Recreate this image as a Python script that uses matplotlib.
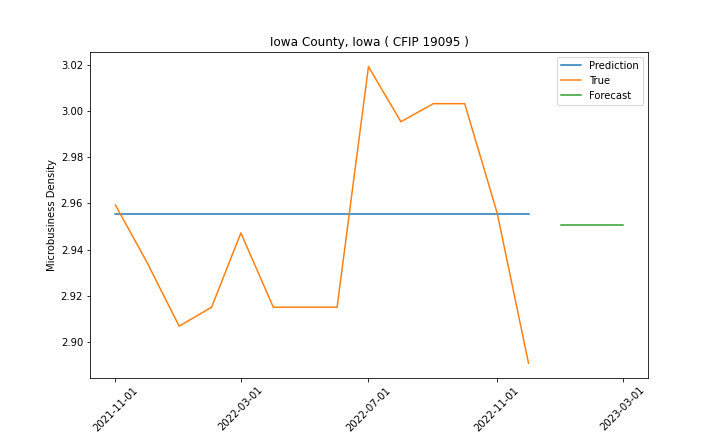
import matplotlib
matplotlib.use("Agg")
import matplotlib.pyplot as plt
import pandas as pd

true_dates = pd.date_range("2021-11-01", "2022-12-01", freq="MS")
true_vals = [2.9593, 2.9347, 2.9069, 2.9151, 2.9472, 2.9151, 2.9151, 2.9151,
             3.0191, 2.9953, 3.0031, 3.0031, 2.9559, 2.8909]
pred_vals = [2.9555] * len(true_dates)
fc_dates = pd.date_range("2023-01-01", "2023-03-01", freq="MS")
fc_vals = [2.9507] * len(fc_dates)
ticks = pd.to_datetime(["2021-11-01", "2022-03-01", "2022-07-01", "2022-11-01", "2023-03-01"])

fig, ax = plt.subplots(figsize=(10, 6), dpi=72)
fig.subplots_adjust(bottom=0.125, top=0.88)
ax.plot(true_dates, pred_vals, label="Prediction")
ax.plot(true_dates, true_vals, label="True")
ax.plot(fc_dates, fc_vals, label="Forecast")
ax.set_xticks(ticks)
ax.set_xticklabels([t.strftime("%Y-%m-%d") for t in ticks], rotation=45)
ax.set_ylabel("Microbusiness Density")
ax.set_title("Iowa County, Iowa ( CFIP 19095 )")
ax.legend(loc="upper right")
fig.savefig("out.png")
